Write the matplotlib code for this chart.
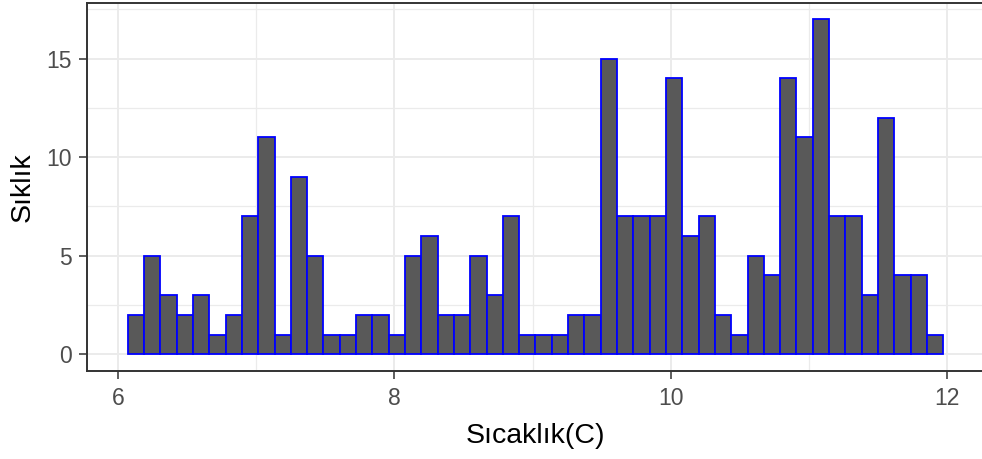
import numpy as np
import matplotlib
matplotlib.use("Agg")
import matplotlib.pyplot as plt
from matplotlib.ticker import FixedLocator

# Data: histogram counts (50 bins)
counts = [2, 5, 3, 2, 3, 1, 2, 7, 11, 1,
          9, 5, 1, 1, 2, 2, 1, 5, 6, 2,
          2, 5, 3, 7, 1, 1, 1, 2, 2, 15,
          7, 7, 7, 14, 6, 7, 2, 1, 5, 4,
          14, 11, 17, 7, 7, 3, 12, 4, 4, 1]
hist_min = 6.072   # left edge of first bin
hist_max = 11.971  # right edge of last bin
x_ticks = [6, 8, 10, 12]
y_ticks = [0, 5, 10, 15]
x_label = "Sıcaklık(C)"
y_label = "Sıklık"

plt.rcParams['font.family'] = ['Liberation Sans', 'DejaVu Sans']

W, H = 982, 459
fig = plt.figure(figsize=(W / 100, H / 100), dpi=100)
left_px, right_px, top_px, bottom_px = 87, 984, 2.5, 371
ax = fig.add_axes([left_px / W, (H - bottom_px) / H,
                   (right_px - left_px) / W, (bottom_px - top_px) / H])

edges = np.linspace(hist_min, hist_max, len(counts) + 1)
widths = np.diff(edges)
ax.bar(edges[:-1], counts, width=widths, align='edge',
       color='#595959', edgecolor='#0000FF', linewidth=1.3, zorder=3)

span = hist_max - hist_min
ax.set_xlim(hist_min - 0.05 * span, hist_max + 0.05 * span)
ymax = max(counts)
ax.set_ylim(-0.05 * ymax, ymax * 1.05)

ax.xaxis.set_major_locator(FixedLocator(x_ticks))
ax.yaxis.set_major_locator(FixedLocator(y_ticks))
ax.xaxis.set_minor_locator(FixedLocator([7, 9, 11]))
ax.yaxis.set_minor_locator(FixedLocator([2.5, 7.5, 12.5, 17.5]))
ax.set_xticklabels([str(t) for t in x_ticks])
ax.set_yticklabels([str(t) for t in y_ticks])

ax.grid(which='major', color='#EBEBEB', linewidth=1.4, zorder=0)
ax.grid(which='minor', color='#EBEBEB', linewidth=0.9, zorder=0)
ax.set_axisbelow(True)

ax.tick_params(which='major', length=5.8, width=1.1, color='#333333',
               labelsize=16.5, labelcolor='#4D4D4D', pad=5)
ax.tick_params(axis='x', which='major', pad=6)
ax.tick_params(which='minor', length=0)

for s in ax.spines.values():
    s.set_color('#333333')
    s.set_linewidth(1.4)
ax.spines['right'].set_visible(False)

ax.set_xlabel(x_label, fontsize=20.5, color='black', labelpad=9)
ax.set_ylabel(y_label, fontsize=20.5, color='black', labelpad=8)

fig.savefig('out.png', dpi=100, facecolor='white')
